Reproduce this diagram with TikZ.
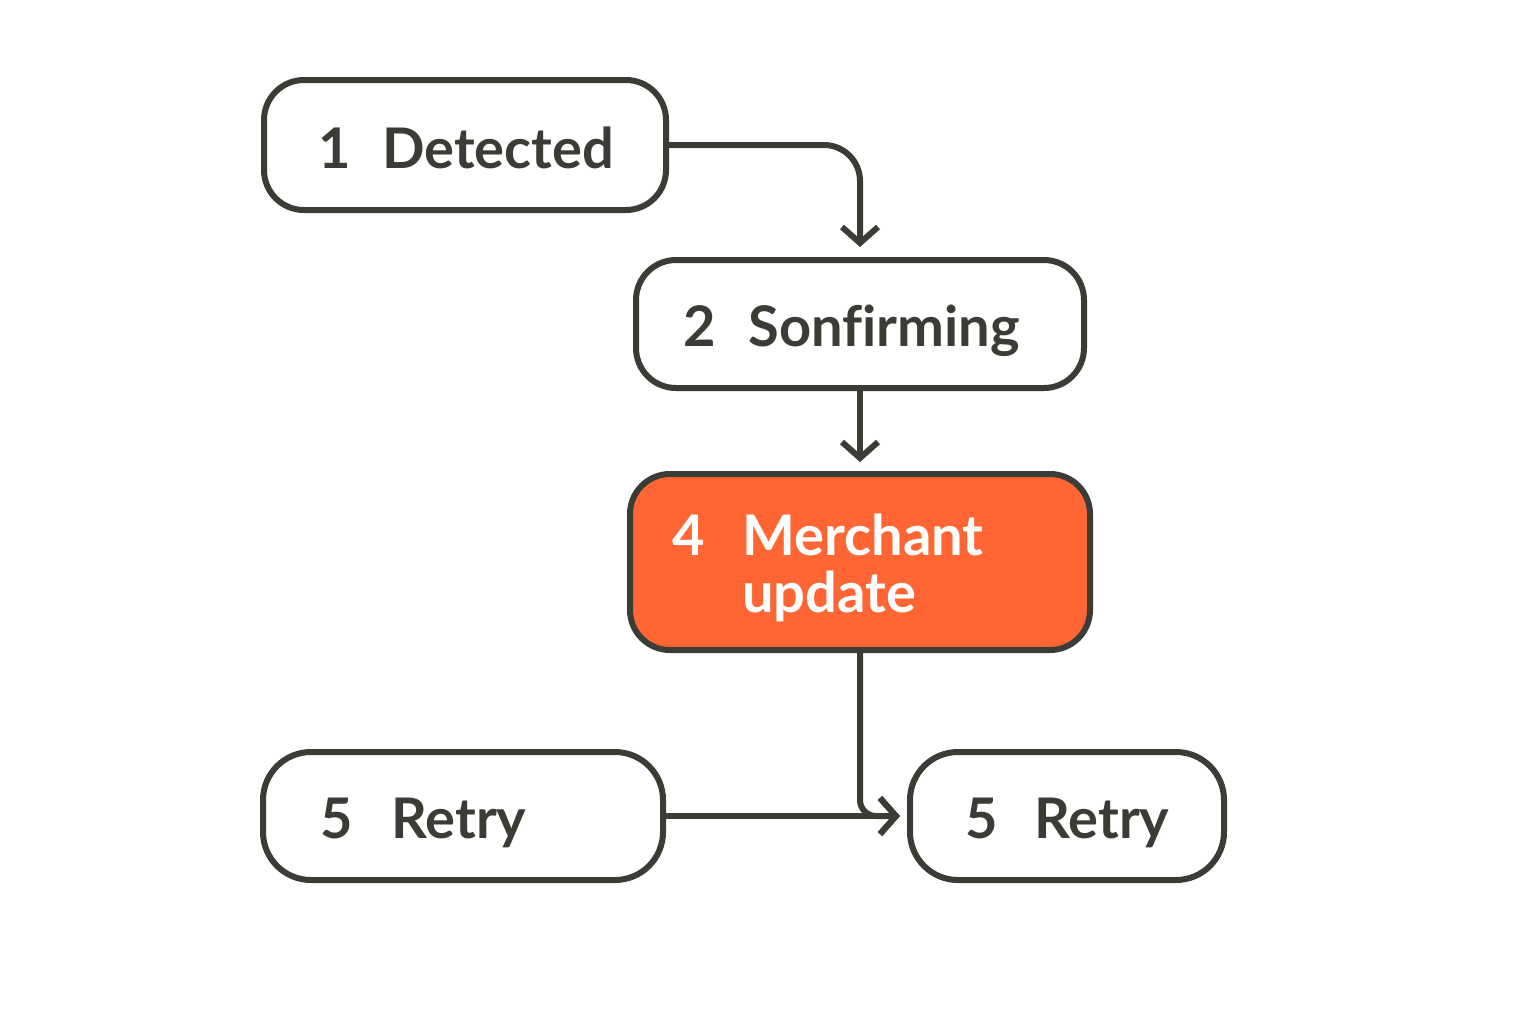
\documentclass[tikz,border=0pt]{standalone}
\usepackage{fontspec}
\setmainfont{Lato}[Ligatures=NoCommon]
\usetikzlibrary{arrows.meta}
\definecolor{ink}{HTML}{3A3C36}
\definecolor{accent}{HTML}{FF6633}
\begin{document}
\begin{tikzpicture}[x=0.5pt,y=-0.5pt,
  box/.style={draw=ink, line width=3pt, rounded corners=20pt, fill=white, inner sep=0pt},
  hot/.style={box, fill=accent},
  lbl/.style={anchor=base west, inner sep=0pt, text=ink, font=\fontsize{28}{33}\selectfont\bfseries},
  hotlbl/.style={lbl, text=white, align=left},
  conn/.style={draw=ink, line width=3pt, line cap=round, line join=round, -{Straight Barb[length=8pt,width=18pt,line width=3pt]}}
]
\useasboundingbox (0,0) rectangle (1536,1024);
\node[box, minimum width=201pt, minimum height=65pt] (b1) at (465,145) {};
\node[box, minimum width=224pt, minimum height=64pt] (b2) at (860,324) {};
\node[hot, minimum width=230pt, minimum height=88pt] (b4) at (860,562) {};
\node[box, minimum width=200pt, minimum height=64pt, rounded corners=24pt] (b5l) at (463,816) {};
\node[box, minimum width=157pt, minimum height=64pt, rounded corners=24pt] (b5r) at (1067,816) {};

\node[lbl] (n1) at (318,168) {1};
\node[lbl] (t1) at (382,168) {Detected};
\node[lbl] (n2) at (683,346) {2};
\node[lbl] (t2) at (748,346) {Sonfirming};
\node[hotlbl] (n4) at (672,555) {4};
\node[hotlbl] (t4) at (742,555) {Merchant};
\node[hotlbl] (u4) at (742,612) {update};
\node[lbl] (n5l) at (320,838) {5};
\node[lbl] (t5l) at (391,838) {Retry};
\node[lbl] (n5r) at (965,838) {5};
\node[lbl] (t5r) at (1034,838) {Retry};

\draw[conn, rounded corners=18pt, shorten >=5pt] (b1.east) -| (b2.north);
\draw[conn, shorten >=4.5pt] (b2.south) -- (b4.north);
\draw[conn, rounded corners=8pt, shorten >=3.5pt] (b4.south) |- (b5r.west);
\draw[conn, shorten >=3.5pt] (b5l.east) -- (b5r.west);
\end{tikzpicture}
\end{document}
